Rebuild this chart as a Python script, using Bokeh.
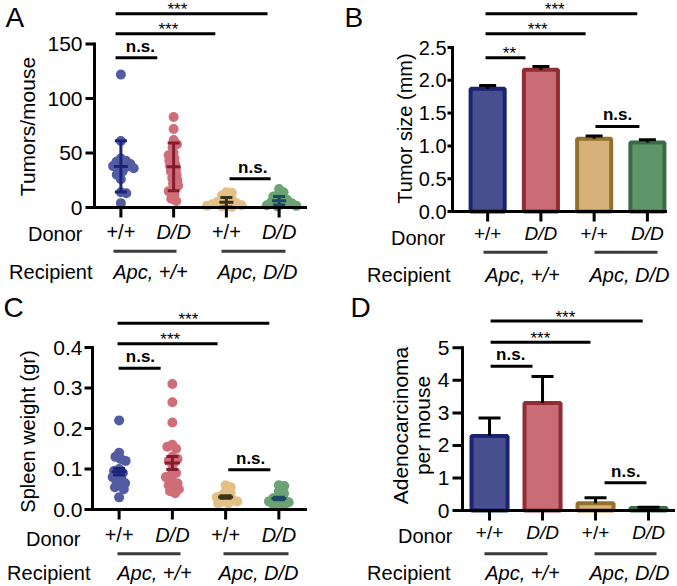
import math
from bokeh.plotting import figure
from bokeh.layouts import column, row
from bokeh.models import Range1d
from bokeh.core.properties import value
from bokeh.embed import file_html
from bokeh.resources import INLINE

FONT = "Liberation Sans"
MID = 0.35  # distance (in em) from the alphabetic baseline to the "middle" baseline

# ---------------- data ----------------
cats = [1, 2, 3, 4]
donor_labels = ["+/+", "D/D", "+/+", "D/D"]
recipient_labels = ["Apc, +/+", "Apc, D/D"]

# A: tumors per mouse (individual mice)
tumors_wt_in_wt = [122, 61, 45, 43, 42, 40, 39, 38, 37, 36, 35, 33, 30, 26, 14, 13, 4]
tumors_dd_in_wt = [83, 72, 62, 58, 55, 50, 48, 45, 43, 40, 38, 35, 33, 30, 27, 25, 22, 20, 17, 15, 12, 8, 6]
tumors_wt_in_dd = [14, 13.5, 11, 9, 7, 6, 5, 4, 3.5, 3, 2, 1.5, 1, 0.5]
tumors_dd_in_dd = [17, 14, 12, 10, 8, 7, 6, 5, 4, 3, 2, 1.5, 1]
tumors_mean = [37.7, 37.3, 4.8, 6.2]
tumors_sd = [23.5, 22.0, 4.3, 4.0]
tumors_ticks = [0, 50, 100, 150]
tumors_tick_labels = ["0", "50", "100", "150"]

# B: tumor size (mm)
size_mean = [1.87, 2.16, 1.11, 1.05]
size_sem = [0.05, 0.05, 0.04, 0.045]
size_ticks = [0, 0.5, 1.0, 1.5, 2.0, 2.5]
size_tick_labels = ["0.0", "0.5", "1.0", "1.5", "2.0", "2.5"]

# C: spleen weight (gr)
spleen_wt_in_wt = [0.22, 0.14, 0.13, 0.125, 0.12, 0.10, 0.095, 0.09, 0.085, 0.08, 0.075, 0.07, 0.065, 0.06, 0.055, 0.05, 0.03]
spleen_dd_in_wt = [0.31, 0.265, 0.215, 0.16, 0.155, 0.15, 0.13, 0.125, 0.12, 0.115, 0.10, 0.09, 0.085, 0.08, 0.07, 0.065, 0.06, 0.055, 0.05, 0.045, 0.04]
spleen_wt_in_dd = [0.06, 0.055, 0.045, 0.04, 0.035, 0.03, 0.03, 0.025, 0.02, 0.02, 0.015, 0.015]
spleen_dd_in_dd = [0.06, 0.058, 0.045, 0.04, 0.03, 0.028, 0.025, 0.02, 0.018, 0.015, 0.012, 0.01]
spleen_mean = [0.093, 0.115, 0.031, 0.027]
spleen_sem = [0.008, 0.016, 0.003, 0.003]
spleen_ticks = [0, 0.1, 0.2, 0.3, 0.4]
spleen_tick_labels = ["0.0", "0.1", "0.2", "0.3", "0.4"]

# D: adenocarcinoma per mouse
adeno_mean = [2.29, 3.30, 0.22, 0.08]
adeno_sem = [0.55, 0.82, 0.17, 0.02]
adeno_ticks = [0, 1, 2, 3, 4, 5]
adeno_tick_labels = ["0", "1", "2", "3", "4", "5"]

# significance brackets: (x from, x to, level, text, text x)
sig_A = [(0.9, 3.78, 177.8, "***", 2.07), (0.9, 2.79, 159.5, "***", 1.90),
         (0.9, 1.69, 137.4, "n.s.", 1.37), (3.06, 3.84, 26.3, "n.s.", 3.50)]
sig_B = [(0.96, 3.81, 3.014, "***", 2.26), (0.96, 2.84, 2.709, "***", 1.94),
         (0.96, 1.71, 2.343, "**", 1.41), (3.025, 3.85, 1.296, "n.s.", 3.44)]
sig_C = [(0.97, 3.82, 0.46, "***", 2.30), (0.97, 2.85, 0.409, "***", 1.96),
         (0.99, 1.78, 0.349, "n.s.", 1.40), (3.05, 3.84, 0.098, "n.s.", 3.47)]
sig_D = [(1.02, 3.89, 5.82, "***", 2.43), (1.02, 2.905, 5.17, "***", 1.96),
         (1.02, 1.81, 4.43, "n.s.", 1.40), (3.17, 3.96, 0.85, "n.s.", 3.57)]

# ---------------- styles ----------------
dot_colors = ["#525ca3", "#cf6d78", "#e4c084", "#6aa374"]
err_colors = ["#1c2477", "#861b2c", "#3a3318", "#1d4866"]
bar_fill = ["#474f8e", "#c96c76", "#d6b179", "#5f9669"]
bar_line = ["#1b2472", "#8f2c34", "#94712b", "#3b6b46"]
GROUP_LINE = "#3a3a3a"


class Geo:
    """pixel geometry of one panel (local pixels) <-> data coordinates"""
    def __init__(self, W, H, fl, fr, fb, x0, x1, ppu):
        self.W, self.H, self.fl, self.fr, self.fb = W, H, fl, fr, fb
        self.x0, self.x1, self.ppu = x0, x1, ppu
        self.ppx = (fr - fl) / (x1 - x0)

    def X(self, lx):
        return self.x0 + (lx - self.fl) / self.ppx

    def Y(self, ly):
        return (self.fb - ly) / self.ppu


def panel_fig(g):
    p = figure(width=g.W, height=g.H,
               x_range=Range1d(g.X(0), g.X(g.W)), y_range=Range1d(g.Y(g.H), g.Y(0)),
               output_backend="svg", toolbar_location=None,
               x_axis_location=None, y_axis_location=None,
               min_border=0, min_border_left=0, min_border_right=0,
               min_border_top=0, min_border_bottom=0)
    p.outline_line_color = None
    p.grid.visible = False
    return p


def txt_mid(p, xs, ys, texts, size, align="center", style="normal", angle=0.0):
    p.text(x=xs, y=ys, text=texts, angle=angle, text_font=value(FONT),
           text_font_size=value("%gpx" % size), text_align=value(align),
           text_baseline=value("middle"), text_font_style=value(style), text_color="black")


def txt(p, g, x, base_ly, text, size, align="center", style="normal"):
    """text whose alphabetic baseline sits at local pixel row base_ly"""
    txt_mid(p, [x], [g.Y(base_ly - MID * size)], [text], size, align, style)


def draw_axes(p, g, ticks, tick_labels, tick_out, label_right, tick_font, ylabels, ylab_font):
    n = len(ticks)
    p.segment(x0=cats, x1=cats, y0=[0] * 4, y1=[g.Y(g.fb + 10)] * 4, line_width=3, line_color="black")
    p.segment(x0=[g.x0] * n, x1=[g.X(g.fl - tick_out)] * n, y0=ticks, y1=ticks,
              line_width=3, line_color="black")
    p.segment(x0=[g.x0, g.x0], x1=[g.x0, g.x1], y0=[0, 0], y1=[ticks[-1], 0],
              line_width=3, line_color="black", line_cap="square")
    txt_mid(p, [g.X(label_right)] * n, list(ticks), list(tick_labels), tick_font, align="right")
    for t, cx, cy in ylabels:
        txt_mid(p, [g.X(cx)], [g.Y(cy)], [t], ylab_font, angle=math.pi / 2)


def swarm_offsets(vals, ppu, ppx, diam=10.0, k=0.55):
    D = diam * k
    ys = [v * ppu for v in vals]
    order = sorted(range(len(vals)), key=lambda i: -ys[i])
    placed = []
    offs = [0.0] * len(vals)
    for i in order:
        y = ys[i]
        iv = []
        for xj, yj in placed:
            dy = abs(y - yj)
            if dy < D:
                dx = (D * D - dy * dy) ** 0.5
                iv.append((xj - dx, xj + dx))
        cands = [0.0] + [a for a, b in iv] + [b for a, b in iv]
        cands.sort(key=lambda c: (abs(c), -c if len(placed) % 2 else c))
        for c in cands:
            if all(not (a + 1e-6 < c < b - 1e-6) for a, b in iv):
                offs[i] = c
                break
        placed.append((offs[i], y))
    return [o / ppx for o in offs]


def dot_panel(p, g, groups, means, errs, cap_px, mean_px):
    for i, vals in enumerate(groups):
        offs = swarm_offsets(vals, g.ppu, g.ppx)
        xs = [cats[i] + o for o in offs]
        p.scatter(xs, vals, size=10, fill_color=dot_colors[i], line_color=None)
    cw = cap_px / g.ppx
    mw = mean_px / g.ppx
    for i in range(4):
        m, e, c = means[i], errs[i], cats[i]
        p.segment(x0=[c, c - cw, c - cw, c - mw], x1=[c, c + cw, c + cw, c + mw],
                  y0=[m - e, m - e, m + e, m], y1=[m + e, m - e, m + e, m],
                  line_width=3, line_color=err_colors[i])


def bar_panel(p, g, vals, errs, width, cap_px):
    p.vbar(x=cats, top=vals, bottom=0, width=width, fill_color=bar_fill,
           line_color=bar_line, line_width=4)
    cw = cap_px / g.ppx
    for i in range(4):
        v, e, c = vals[i], errs[i], cats[i]
        p.segment(x0=[c, c - cw], x1=[c, c + cw], y0=[v, v + e], y1=[v + e, v + e],
                  line_width=3, line_color="black")


def decorate(p, g, letter, letter_pos, sig, below):
    txt(p, g, g.X(letter_pos[0]), letter_pos[1], letter, 28, align="left")
    p.segment(x0=[s[0] for s in sig], x1=[s[1] for s in sig],
              y0=[s[2] for s in sig], y1=[s[2] for s in sig],
              line_width=3, line_color="black")
    for x0, x1, lvl, t, tx in sig:
        bar_ly = g.fb - lvl * g.ppu
        if t == "n.s.":
            txt(p, g, tx, bar_ly - 5.6, t, 17, style="bold")
        else:
            txt(p, g, tx, bar_ly + 2, t, 17)
    for c, t in zip(cats, donor_labels):
        txt(p, g, c, below["cat_base"], t, below["cat_font"],
            style="italic" if t == "D/D" else "normal")
    txt(p, g, g.X(below["donor"][0]), below["donor"][1], "Donor", 20, align="right")
    gy = g.Y(below["group_y"])
    p.segment(x0=[g.X(a) for a, b in below["groups"]], x1=[g.X(b) for a, b in below["groups"]],
              y0=[gy, gy], y1=[gy, gy], line_width=3, line_color=GROUP_LINE)
    rb = below["recip"][1]
    txt(p, g, g.X(below["recip"][0]), rb, "Recipient", 20, align="right")
    for cx, t in zip(below["apc"], recipient_labels):
        txt(p, g, g.X(cx), rb, t, 20, style="italic")


# ---------------- panel A ----------------
gA = Geo(337, 290, 94, 305, 207, 0.5, 4.5, 163.4 / 150)
pA = panel_fig(gA)
dot_panel(pA, gA, [tumors_wt_in_wt, tumors_dd_in_wt, tumors_wt_in_dd, tumors_dd_in_dd],
          tumors_mean, tumors_sd, 6, 7)
draw_axes(pA, gA, tumors_ticks, tumors_tick_labels, 9, 82, 21,
          [("Tumors/mouse", 27, 126)], 21)
decorate(pA, gA, "A", (5, 27), sig_A,
         dict(cat_base=238, cat_font=20, donor=(82, 240), group_y=250.7,
              groups=[(113, 176), (221, 285)], recip=(92, 278), apc=[150, 257]))

# ---------------- panel B ----------------
gB = Geo(338, 290, 115, 328, 211, 0.34, 4.34, 164 / 2.5)
pB = panel_fig(gB)
bar_panel(pB, gB, size_mean, size_sem, 0.64, 8.5)
draw_axes(pB, gB, size_ticks, size_tick_labels, 5, 109, 20,
          [("Tumor size (mm)", 67, 128)], 20)
decorate(pB, gB, "B", (7, 27), sig_B,
         dict(cat_base=240, cat_font=19, donor=(108, 244), group_y=251.7,
              groups=[(146, 210), (257, 320)], recip=(113, 281), apc=[185, 292]))

# ---------------- panel C ----------------
gC = Geo(337, 295, 92, 305, 219, 0.5, 4.5, 162 / 0.4)
pC = panel_fig(gC)
dot_panel(pC, gC, [spleen_wt_in_wt, spleen_dd_in_wt, spleen_wt_in_dd, spleen_dd_in_dd],
          spleen_mean, spleen_sem, 6, 7.5)
draw_axes(pC, gC, spleen_ticks, spleen_tick_labels, 8, 82, 21,
          [("Spleen weight (gr)", 27, 141)], 20)
decorate(pC, gC, "C", (3, 27), sig_C,
         dict(cat_base=251, cat_font=20, donor=(80, 255), group_y=263.3,
              groups=[(117, 180), (223, 288)], recip=(90, 289), apc=[154, 258]))

# ---------------- panel D ----------------
gD = Geo(338, 295, 125, 337, 220, 0.49, 4.49, 162.7 / 5)
pD = panel_fig(gD)
bar_panel(pD, gD, adeno_mean, adeno_sem, 0.68, 11)
draw_axes(pD, gD, adeno_ticks, adeno_tick_labels, 10, 112, 21,
          [("Adenocarcinoma", 63, 135), ("per mouse", 85, 135)], 21)
decorate(pD, gD, "D", (13, 27), sig_D,
         dict(cat_base=249, cat_font=19, donor=(115, 252), group_y=263.3,
              groups=[(147, 210), (257, 319)], recip=(113, 289), apc=[185, 292]))

layout = column(row(pA, pB, spacing=0), row(pC, pD, spacing=0), spacing=0)
open("out.html", "w").write(file_html(layout, INLINE))
